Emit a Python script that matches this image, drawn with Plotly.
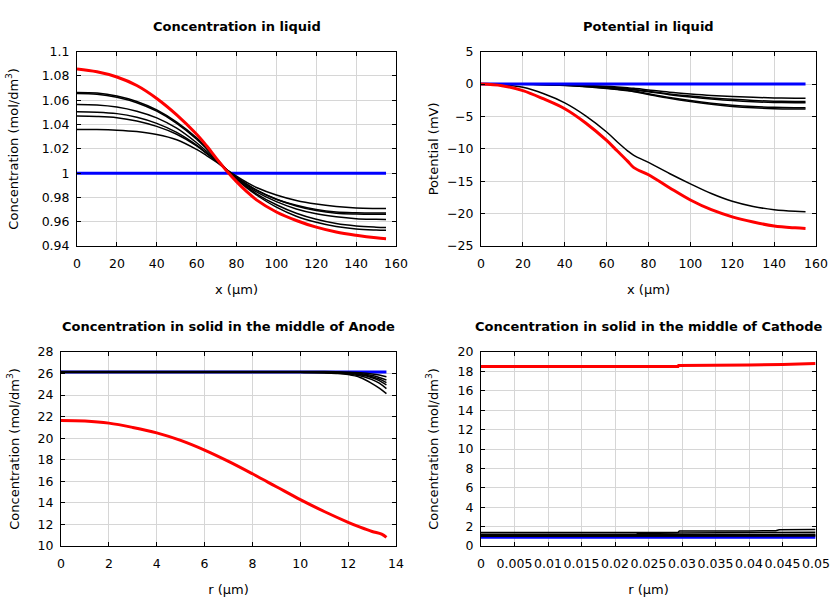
import plotly.graph_objects as go

# ---------------- Data: Concentration in liquid ----------------
liq_x = [0, 10, 20, 30, 40, 50, 60, 65, 70, 75, 80, 85, 90, 100, 110, 120, 130, 140, 150, 155]
liq_red = [1.0858, 1.0835, 1.0792, 1.0722, 1.0615, 1.048, 1.032, 1.0225, 1.012, 1.002, 0.993, 0.985,
           0.978, 0.968, 0.961, 0.9555, 0.9515, 0.9488, 0.9467, 0.946]
liq_k1 = [1.0665, 1.066, 1.0635, 1.059, 1.052, 1.042, 1.029, 1.021, 1.012, 1.003, 0.995, 0.988,
          0.982, 0.972, 0.9645, 0.9595, 0.956, 0.954, 0.9532, 0.953]
liq_k2 = [1.0656, 1.065, 1.0625, 1.058, 1.051, 1.041, 1.028, 1.020, 1.0115, 1.003, 0.9955, 0.989,
          0.983, 0.974, 0.967, 0.962, 0.9585, 0.9565, 0.9555, 0.9552]
liq_k3 = [1.0566, 1.0562, 1.0545, 1.051, 1.0455, 1.037, 1.025, 1.018, 1.0105, 1.003, 0.996, 0.990,
          0.9845, 0.9765, 0.9705, 0.9665, 0.964, 0.9625, 0.962, 0.9618]
liq_k4 = [1.0505, 1.0502, 1.049, 1.046, 1.041, 1.0335, 1.023, 1.0165, 1.0098, 1.003, 0.9965, 0.9908,
          0.9858, 0.9785, 0.9735, 0.970, 0.968, 0.9674, 0.9672, 0.9672]
liq_k5 = [1.047, 1.0467, 1.0457, 1.043, 1.0385, 1.032, 1.0225, 1.0162, 1.0096, 1.003, 0.9968, 0.9912,
          0.9862, 0.9785, 0.973, 0.9692, 0.967, 0.9663, 0.9661, 0.9661]
liq_k6 = [1.036, 1.0359, 1.0354, 1.0342, 1.0318, 1.0275, 1.0195, 1.0145, 1.009, 1.003, 0.9975, 0.9925,
          0.9882, 0.982, 0.9775, 0.9745, 0.9725, 0.9713, 0.9709, 0.9708]
liq_blue_x = [0, 155]
liq_blue = [1.0, 1.0]

# ---------------- Data: Potential in liquid ----------------
pot_x = [0, 10, 20, 30, 40, 50, 60, 65, 70, 73, 80, 90, 100, 110, 120, 130, 140, 150, 155]
pot_red = [0, -0.25, -1.0, -2.3, -3.8, -6.0, -8.7, -10.3, -11.9, -12.9, -14.0, -16.0, -17.9,
           -19.4, -20.5, -21.3, -21.9, -22.2, -22.3]
pot_k1 = [0, -0.1, -0.5, -1.5, -2.9, -4.9, -7.4, -8.9, -10.3, -11.0, -12.1, -13.8, -15.4,
          -16.9, -18.1, -18.9, -19.4, -19.65, -19.7]
pot_k2 = [0, 0, -0.01, -0.04, -0.1, -0.2, -0.35, -0.45, -0.57, -0.65, -0.9, -1.25, -1.52,
          -1.75, -1.92, -2.05, -2.14, -2.19, -2.2]
pot_k3 = [0, 0, -0.02, -0.05, -0.13, -0.26, -0.45, -0.58, -0.72, -0.82, -1.1, -1.52, -1.85,
          -2.13, -2.36, -2.53, -2.64, -2.69, -2.7]
pot_k4 = [0, 0, -0.02, -0.06, -0.15, -0.29, -0.5, -0.63, -0.78, -0.88, -1.18, -1.63, -2.0,
          -2.3, -2.55, -2.73, -2.84, -2.89, -2.9]
pot_k5 = [0, 0, -0.02, -0.08, -0.19, -0.37, -0.62, -0.78, -0.96, -1.08, -1.5, -2.07, -2.55,
          -2.95, -3.25, -3.46, -3.59, -3.64, -3.65]
pot_k6 = [0, 0, -0.03, -0.09, -0.21, -0.4, -0.68, -0.85, -1.04, -1.17, -1.6, -2.2, -2.7,
          -3.12, -3.45, -3.67, -3.79, -3.84, -3.85]
pot_blue_x = [0, 155]
pot_blue = [0, 0]

# ---------------- Data: Solid, anode ----------------
an_red_x = [0, 1, 2, 3, 4, 5, 6, 7, 8, 9, 10, 11, 12, 12.5, 13, 13.4, 13.6]
an_red = [21.65, 21.6, 21.4, 21.0, 20.5, 19.8, 18.9, 17.85, 16.7, 15.5, 14.3, 13.2, 12.2,
          11.75, 11.35, 11.1, 10.8]
an_k_x = [0, 10, 11, 11.5, 12, 12.5, 13, 13.3, 13.6]
an_k1 = [26.20, 26.20, 26.19, 26.17, 26.13, 26.07, 25.96, 25.86, 25.71]
an_k2 = [26.17, 26.17, 26.16, 26.13, 26.09, 26.0, 25.82, 25.64, 25.4]
an_k3 = [26.15, 26.15, 26.13, 26.1, 26.05, 25.93, 25.71, 25.49, 25.16]
an_k4 = [26.13, 26.13, 26.11, 26.08, 26.02, 25.88, 25.61, 25.34, 24.94]
an_k5 = [26.11, 26.11, 26.09, 26.05, 25.97, 25.79, 25.44, 25.11, 24.6]
an_k6 = [26.09, 26.09, 26.06, 26.01, 25.9, 25.64, 25.07, 24.65, 24.14]
an_blue_x = [0, 13.6]
an_blue = [26.14, 26.14]

# ---------------- Data: Solid, cathode ----------------
ca_red_x = [0, 0.0294, 0.0295, 0.035, 0.04, 0.045, 0.0499]
ca_red = [18.5, 18.5, 18.62, 18.62, 18.65, 18.72, 18.82]
ca_k1_x = [0, 0.0294, 0.0296, 0.035, 0.04, 0.044, 0.0445, 0.0499]
ca_k1 = [1.4, 1.4, 1.55, 1.52, 1.55, 1.57, 1.68, 1.7]
ca_k2_x = [0, 0.0232, 0.0234, 0.0294, 0.0296, 0.0499]
ca_k2 = [1.22, 1.22, 1.3, 1.3, 1.35, 1.42]
ca_k3_x = [0, 0.0499]
ca_k3 = [1.12, 1.2]
ca_k4_x = [0, 0.0499]
ca_k4 = [1.05, 1.1]
ca_k5_x = [0, 0.0499]
ca_k5 = [1.0, 1.03]
ca_blue_x = [0, 0.0499]
ca_blue = [0.9, 0.9]

ca_tickvals = [0, 0.005, 0.01, 0.015, 0.02, 0.025, 0.03, 0.035, 0.04, 0.045, 0.05]
ca_ticktext = ["0", "0.005", "0.01", "0.015", "0.02", "0.025", "0.03", "0.035", "0.04", "0.045", "0.05"]

RED = "#ff0000"
BLUE = "#0000ff"
BLACK = "#000000"
FONT = "DejaVu Sans"

fig = go.Figure()


def add(x, y, color, width, xa, ya, shape="spline"):
    fig.add_trace(go.Scatter(x=x, y=y, mode="lines", xaxis=xa, yaxis=ya,
                             line=dict(color=color, width=width, shape=shape),
                             hoverinfo="skip", showlegend=False))


# Top-left
add(liq_blue_x, liq_blue, BLUE, 3, "x", "y", "linear")
for k in [liq_k1, liq_k2, liq_k3, liq_k4, liq_k5, liq_k6]:
    add(liq_x, k, BLACK, 1.5, "x", "y")
add(liq_x, liq_red, RED, 3, "x", "y")

# Top-right
for k in [pot_k1, pot_k2, pot_k3, pot_k4, pot_k5, pot_k6]:
    add(pot_x, k, BLACK, 1.5, "x2", "y2")
add(pot_blue_x, pot_blue, BLUE, 3, "x2", "y2", "linear")
add(pot_x, pot_red, RED, 3, "x2", "y2")

# Bottom-left
add(an_blue_x, an_blue, BLUE, 3, "x3", "y3", "linear")
for k in [an_k1, an_k2, an_k3, an_k4, an_k5, an_k6]:
    add(an_k_x, k, BLACK, 1.5, "x3", "y3")
add(an_red_x, an_red, RED, 3, "x3", "y3")

# Bottom-right
add(ca_blue_x, ca_blue, BLUE, 3, "x4", "y4", "linear")
for kx, k in [(ca_k1_x, ca_k1), (ca_k2_x, ca_k2), (ca_k3_x, ca_k3), (ca_k4_x, ca_k4), (ca_k5_x, ca_k5)]:
    add(kx, k, BLACK, 1.5, "x4", "y4", "linear")
add(ca_red_x, ca_red, RED, 3, "x4", "y4", "linear")

W, H = 840, 600


def px_x(a, b):
    return [a / W, b / W]


def px_y(top, bottom):
    return [1 - bottom / H, 1 - top / H]


common = dict(showline=True, linecolor=BLACK, linewidth=1, mirror="allticks",
              ticks="inside", ticklen=4, tickwidth=1, tickcolor=BLACK,
              showgrid=True, gridcolor="#d6d6d6", gridwidth=1, zeroline=False,
              tickfont=dict(family=FONT, size=12.5, color=BLACK),
              automargin=False, tickangle=0)
xcommon = dict(common, ticklabelstandoff=6)
ycommon = dict(common, ticklabelstandoff=4)
tfont = dict(family=FONT, size=13, color=BLACK)
ytitle = "Concentration (mol/dm<sup>3</sup>)"

fig.update_layout(
    width=W, height=H, template="none",
    margin=dict(l=0, r=0, t=0, b=0),
    paper_bgcolor="white", plot_bgcolor="white", showlegend=False,
    font=dict(family=FONT, color=BLACK),
    xaxis=dict(xcommon, domain=px_x(77, 396), range=[0, 160], dtick=20, anchor="y",
               title=dict(text="x (µm)", font=tfont, standoff=14)),
    yaxis=dict(ycommon, domain=px_y(51.7, 246), range=[0.94, 1.1], dtick=0.02, anchor="x",
               title=dict(text=ytitle, font=tfont, standoff=20)),
    xaxis2=dict(xcommon, domain=px_x(481, 816), range=[0, 160], dtick=20, anchor="y2",
                title=dict(text="x (µm)", font=tfont, standoff=14)),
    yaxis2=dict(ycommon, domain=px_y(51.7, 246), range=[-25, 5], dtick=5, anchor="x2",
                title=dict(text="Potential (mV)", font=tfont, standoff=5)),
    xaxis3=dict(xcommon, domain=px_x(61, 396), range=[0, 14], dtick=2, anchor="y3",
                title=dict(text="r (µm)", font=tfont, standoff=14)),
    yaxis3=dict(ycommon, domain=px_y(352, 546), range=[10, 28], dtick=2, anchor="x3",
                title=dict(text=ytitle, font=tfont, standoff=15)),
    xaxis4=dict(xcommon, domain=px_x(481, 816), range=[0, 0.05], anchor="y4",
                tickmode="array", tickvals=ca_tickvals, ticktext=ca_ticktext,
                title=dict(text="r (µm)", font=tfont, standoff=14)),
    yaxis4=dict(ycommon, domain=px_y(352, 546), range=[0, 20], dtick=2, anchor="x4",
                title=dict(text=ytitle, font=tfont, standoff=16)),
)

titles = [("Concentration in liquid", 236.5, 26),
          ("Potential in liquid", 648.5, 26),
          ("Concentration in solid in the middle of Anode", 228.5, 326),
          ("Concentration in solid in the middle of Cathode", 648.5, 326)]
for text, cx, cy in titles:
    fig.add_annotation(text="<b>" + text + "</b>", x=cx / W, y=1 - cy / H,
                       xref="paper", yref="paper", showarrow=False,
                       xanchor="center", yanchor="middle",
                       font=dict(family=FONT, size=13, color=BLACK))

fig.write_html("out.html")
